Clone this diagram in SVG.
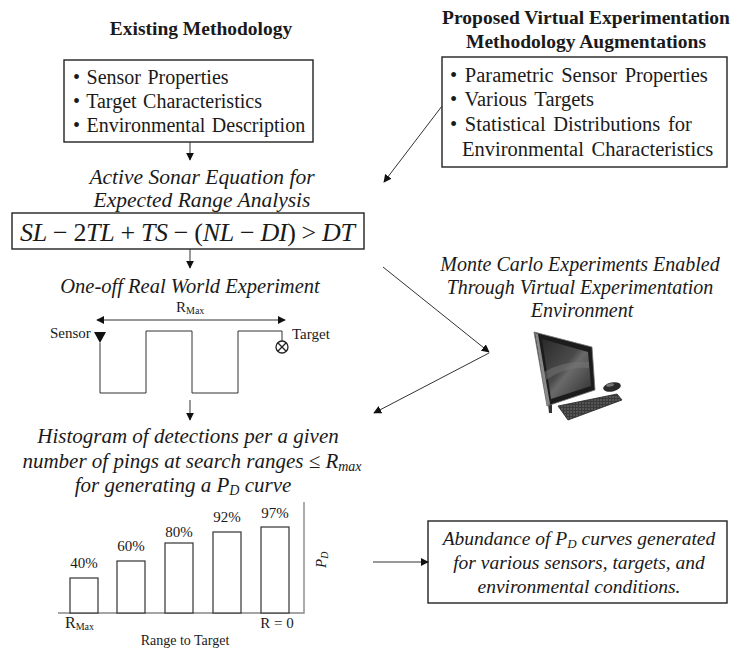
<svg xmlns="http://www.w3.org/2000/svg" width="732" height="649" viewBox="0 0 732 649">
  <style>
    .t { font-family: "Liberation Serif", "Times New Roman", serif; fill: #1a1a1a; }
    .b { font-weight: bold; font-size: 19.5px; }
    .lst { font-size: 20px; word-spacing: 1.5px; }
    .lst2 { font-size: 20.5px; word-spacing: 2.5px; }
    .it { font-style: italic; }
    .h21 { font-size: 21.5px; }
    .h20 { font-size: 20px; }
    .h19 { font-size: 19.5px; }
    .sm { font-size: 15px; }
    .xs { font-size: 14px; }
    .bx { fill: #fff; stroke: #222; stroke-width: 1.4; }
    .ln { fill: none; stroke: #333; stroke-width: 1; }
    .bar { fill: #fff; stroke: #333; stroke-width: 1.2; }
    .ax { fill: none; stroke: #888; stroke-width: 1.4; }
  </style>
  <defs>
    <marker id="ah" viewBox="0 0 10 10" refX="9" refY="5" markerWidth="8" markerHeight="8" markerUnits="userSpaceOnUse" orient="auto-start-reverse">
      <path d="M0,0 L10,5 L0,10 Z" fill="#111"/>
    </marker>
    <linearGradient id="scr" x1="0" y1="0" x2="1" y2="1">
      <stop offset="0" stop-color="#2a2a2a"/>
      <stop offset="0.45" stop-color="#4a4a4a"/>
      <stop offset="0.55" stop-color="#6a6a6a"/>
      <stop offset="1" stop-color="#2e2e2e"/>
    </linearGradient>
    <pattern id="keys" width="3" height="3" patternUnits="userSpaceOnUse">
      <rect width="3" height="3" fill="#3a3a3a"/>
      <rect width="2" height="2" fill="#555"/>
    </pattern>
  </defs>

  <!-- column headings -->
  <g id="head-existing">
    <text class="t b" x="201" y="35" text-anchor="middle">Existing Methodology</text>
  </g>
  <g id="head-proposed">
    <text class="t b" x="586" y="24" text-anchor="middle">Proposed Virtual Experimentation</text>
    <text class="t b" x="586" y="48" text-anchor="middle">Methodology Augmentations</text>
  </g>

  <!-- inputs of the existing method -->
  <g id="inputs-existing">
    <rect class="bx" x="64" y="60" width="249" height="82"/>
    <text class="t lst" x="73" y="84">• Sensor Properties</text>
    <text class="t lst" x="73" y="108">• Target Characteristics</text>
    <text class="t lst" x="73" y="132">• Environmental Description</text>
  </g>

  <!-- augmented inputs -->
  <g id="inputs-proposed">
    <rect class="bx" x="442" y="57" width="285" height="110"/>
    <text class="t lst2" x="450" y="82">• Parametric Sensor Properties</text>
    <text class="t lst2" x="450" y="106">• Various Targets</text>
    <text class="t lst2" x="450" y="131">• Statistical Distributions for</text>
    <text class="t lst2" x="462" y="156">Environmental Characteristics</text>
  </g>

  <!-- sonar equation -->
  <g id="sonar-equation">
    <text class="t it h21" x="202" y="184" text-anchor="middle">Active Sonar Equation for</text>
    <text class="t it h21" x="202" y="207" text-anchor="middle">Expected Range Analysis</text>
    <rect class="bx" x="12" y="213" width="352" height="36"/>
    <text class="t" x="20" y="241" font-size="26" textLength="335" lengthAdjust="spacing"><tspan font-style="italic">SL</tspan> − 2<tspan font-style="italic">TL</tspan> + <tspan font-style="italic">TS</tspan> − (<tspan font-style="italic">NL</tspan> − <tspan font-style="italic">DI</tspan>) &gt; <tspan font-style="italic">DT</tspan></text>
  </g>

  <!-- field experiment sketch -->
  <g id="real-experiment">
    <text class="t it" x="190" y="293" text-anchor="middle" style="font-size:20.5px">One-off Real World Experiment</text>
    <text class="t sm" x="176" y="312">R<tspan font-size="10" dy="2">Max</tspan></text>
    <line class="ln" x1="97" y1="320" x2="285" y2="320" marker-start="url(#ah)" marker-end="url(#ah)"/>
    <text class="t sm" x="50" y="338">Sensor</text>
    <path d="M94,332 L106,332 L100,343 Z" fill="#111"/>
    <path class="ln" d="M100,343 V393 H146 V331 H192 V393 H238 V331 H282 V341"/>
    <circle cx="282" cy="347" r="6" fill="#fff" stroke="#222" stroke-width="1.3"/>
    <path d="M277.8,342.8 L286.2,351.2 M286.2,342.8 L277.8,351.2" stroke="#222" stroke-width="1.3"/>
    <text class="t sm" x="292" y="339">Target</text>
  </g>

  <!-- virtual environment -->
  <g id="virtual-env">
    <text class="t it h20" x="580" y="271" text-anchor="middle">Monte Carlo Experiments Enabled</text>
    <text class="t it h20" x="580" y="294" text-anchor="middle">Through Virtual Experimentation</text>
    <text class="t it h20" x="582" y="317" text-anchor="middle">Environment</text>
    <!-- all-in-one computer -->
    <path d="M548,404 L549,413 L552,413 L552,404 Z" fill="#333"/>
    <path d="M534,332 L592,347 L595,390 L547,406 Z" fill="#1c1c1c" stroke="#777" stroke-width="0.8"/>
    <path d="M535,333 L538,334 L550,404 L547,406 Z" fill="#888"/>
    <path d="M542,339 L588,352 L591,386 L551,399 Z" fill="url(#scr)"/>
    <path d="M544,372 Q565,360 589,362 L589,368 Q566,366 546,380 Z" fill="#777" opacity="0.5"/>
    <path d="M558,406 L617,394 L622,400 L568,420 Z" fill="url(#keys)" stroke="#222" stroke-width="0.8"/>
    <ellipse cx="612" cy="387" rx="9" ry="4.5" fill="#2a2a2a" transform="rotate(-12 612 387)"/>
    <ellipse cx="610" cy="385" rx="4" ry="1.6" fill="#777" transform="rotate(-12 610 385)"/>
  </g>

  <!-- detection histogram -->
  <g id="histogram">
    <text class="t it" style="font-size:21px" x="188" y="443" text-anchor="middle">Histogram of detections per a given</text>
    <text class="t it" style="font-size:21px" x="192" y="468" text-anchor="middle">number of pings at search ranges ≤ <tspan>R</tspan><tspan font-size="14" dy="3">max</tspan></text>
    <text class="t it" style="font-size:21px" x="183" y="492" text-anchor="middle">for generating a <tspan>P</tspan><tspan font-size="14" dy="3">D</tspan><tspan dy="-3"> curve</tspan></text>
    <path class="ax" d="M304,502 V613 H58"/>
    <rect class="bar" x="70" y="578" width="28" height="35"/>
    <rect class="bar" x="117" y="561" width="28" height="52"/>
    <rect class="bar" x="165" y="543" width="28" height="70"/>
    <rect class="bar" x="213" y="532" width="28" height="81"/>
    <rect class="bar" x="261" y="527" width="28" height="86"/>
    <text class="t sm" x="84" y="568" text-anchor="middle">40%</text>
    <text class="t sm" x="131" y="551" text-anchor="middle">60%</text>
    <text class="t sm" x="179" y="537" text-anchor="middle">80%</text>
    <text class="t sm" x="227" y="522" text-anchor="middle">92%</text>
    <text class="t sm" x="275" y="518" text-anchor="middle">97%</text>
    <text class="t sm" font-style="italic" transform="translate(326 568) rotate(-90)">P<tspan font-size="10" dy="2">D</tspan></text>
    <text class="t" style="font-size:16px" x="65" y="628">R<tspan font-size="10" dy="2">Max</tspan></text>
    <text class="t sm" x="277" y="628" text-anchor="middle">R = 0</text>
    <text class="t xs" x="185" y="645" text-anchor="middle">Range to Target</text>
  </g>

  <!-- outcome -->
  <g id="outcome">
    <rect class="bx" x="428" y="521" width="299" height="82"/>
    <text class="t it h19" x="579" y="545" text-anchor="middle">Abundance of <tspan>P</tspan><tspan font-size="13" dy="3">D</tspan><tspan dy="-3"> curves generated</tspan></text>
    <text class="t it h19" x="579" y="569" text-anchor="middle">for various sensors, targets, and</text>
    <text class="t it h19" x="579" y="593" text-anchor="middle">environmental conditions.</text>
  </g>

  <!-- connectors -->
  <g id="connectors">
    <line class="ln" x1="190" y1="142" x2="190" y2="160" marker-end="url(#ah)"/>
    <line class="ln" x1="442" y1="106" x2="384" y2="182" marker-end="url(#ah)"/>
    <line class="ln" x1="190" y1="249" x2="190" y2="268" marker-end="url(#ah)"/>
    <line class="ln" x1="383" y1="267" x2="489" y2="352" marker-end="url(#ah)"/>
    <line class="ln" x1="489" y1="353" x2="374" y2="413" marker-end="url(#ah)"/>
    <line class="ln" x1="190" y1="400" x2="190" y2="420" marker-end="url(#ah)"/>
    <line class="ln" x1="373" y1="562" x2="428" y2="562" marker-end="url(#ah)"/>
  </g>
</svg>
